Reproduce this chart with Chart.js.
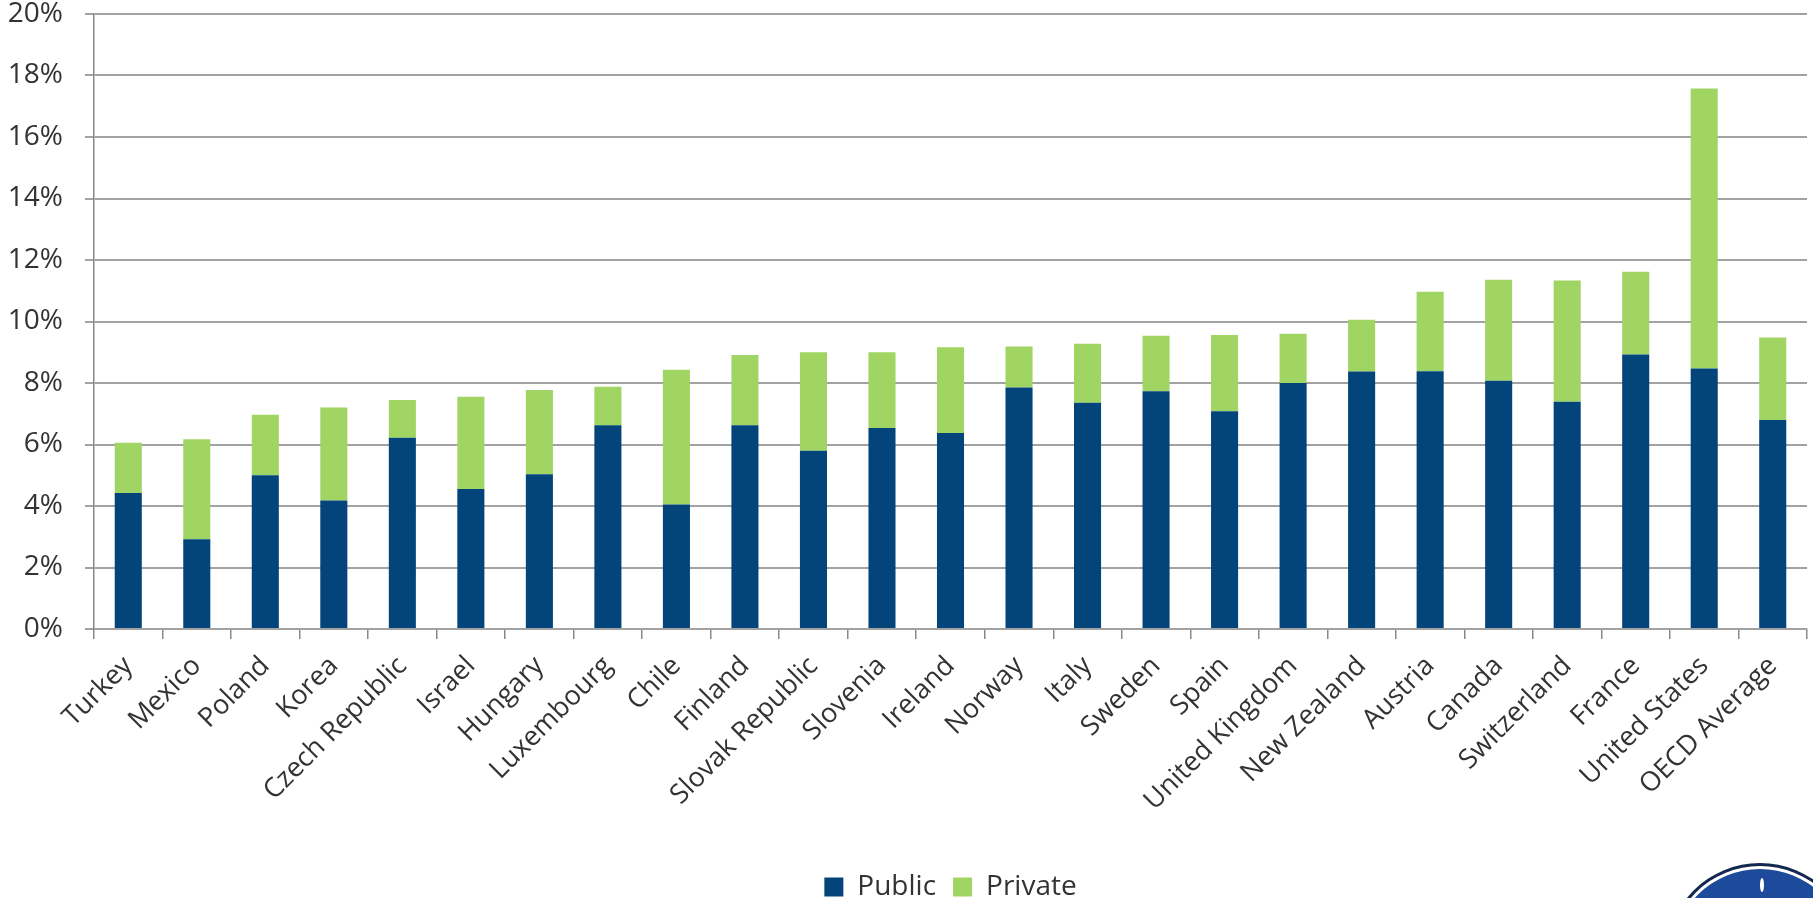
<!DOCTYPE html>
<html>
<head>
<meta charset="utf-8">
<title>Health spending, public and private</title>
<script src="https://cdn.jsdelivr.net/npm/chart.js@4"></script>
<style>
  html, body { margin: 0; padding: 0; background: #fff; overflow: hidden; }
  #wrap { position: relative; width: 1813px; height: 911px; }
</style>
</head>
<body>
<div id="wrap"><canvas id="spendChart"></canvas></div>
<script>
// Countries, ordered by total spending
const countries = ['Turkey', 'Mexico', 'Poland', 'Korea', 'Czech Republic', 'Israel', 'Hungary',
    'Luxembourg', 'Chile', 'Finland', 'Slovak Republic', 'Slovenia', 'Ireland', 'Norway', 'Italy',
    'Sweden', 'Spain', 'United Kingdom', 'New Zealand', 'Austria', 'Canada', 'Switzerland',
    'France', 'United States', 'OECD Average'];

// Share of GDP, in percent
const publicShare = [4.42, 2.92, 5.00, 4.18, 6.22, 4.55, 5.03, 6.63, 4.05, 6.63, 5.80, 6.54, 6.37,
    7.85, 7.36, 7.73, 7.08, 8.00, 8.37, 8.38, 8.07, 7.39, 8.93, 8.47, 6.80];
const privateShare = [1.64, 3.25, 1.97, 3.02, 1.23, 3.00, 2.74, 1.25, 4.38, 2.28, 3.20, 2.46, 2.79,
    1.34, 1.92, 1.81, 2.48, 1.60, 1.69, 2.59, 3.29, 3.94, 2.69, 9.11, 2.68];

const yTicks = [0, 2, 4, 6, 8, 10, 12, 14, 16, 18, 20];

const textColor = '#333333';
const gridColor = '#a2a2a2';
const font = { family: '"Open Sans", sans-serif', size: 27, lineHeight: 1 };

// keep the legend centred under the plot area rather than the whole canvas
const legendUnderPlot = {
    id: 'legendUnderPlot',
    afterLayout(chart) {
        const lg = chart.legend;
        const shift = (chart.chartArea.left + chart.chartArea.right) / 2 - (lg.left + lg.right) / 2;
        lg.left += shift;
        lg.right += shift;
    }
};

// round emblem peeking in at the bottom right corner
const emblem = {
    id: 'emblem',
    afterDraw(chart) {
        const ctx = chart.ctx;
        const cx = chart.width - 53, cy = chart.height + 46, r = 94;
        ctx.save();
        ctx.beginPath();
        ctx.arc(cx, cy, r, 0, Math.PI * 2);
        ctx.fillStyle = '#14284f';
        ctx.fill();
        ctx.beginPath();
        ctx.arc(cx, cy, r - 3, 0, Math.PI * 2);
        ctx.fillStyle = '#ffffff';
        ctx.fill();
        ctx.beginPath();
        ctx.arc(cx, cy, r - 6, 0, Math.PI * 2);
        ctx.fillStyle = '#1d4a9b';
        ctx.fill();
        ctx.fillStyle = '#ffffff';
        ctx.beginPath();
        ctx.ellipse(cx + 2, cy - r + 22, 2, 7, 0, 0, Math.PI * 2);
        ctx.fill();
        ctx.restore();
    }
};

const ctx = document.getElementById('spendChart').getContext('2d');

new Chart(ctx, {
    type: 'bar',
    data: {
        labels: countries,
        datasets: [{
            label: 'Public',
            data: publicShare,
            backgroundColor: '#03457b',
            barPercentage: 0.395,
            categoryPercentage: 1
        }, {
            label: 'Private',
            data: privateShare,
            backgroundColor: '#a0d463',
            barPercentage: 0.395,
            categoryPercentage: 1
        }]
    },
    options: {
        responsive: true,
        maintainAspectRatio: false,
        animation: false,
        layout: { padding: { top: 14, right: 6, left: 0, bottom: 0 } },
        plugins: {
            tooltip: { enabled: false },
            legend: {
                position: 'bottom',
                labels: {
                    font: { family: '"Open Sans", sans-serif', size: 28, lineHeight: 1 },
                    color: textColor,
                    boxWidth: 19,
                    boxHeight: 19,
                    padding: 17
                }
            }
        },
        scales: {
            x: {
                stacked: true,
                grid: {
                    offset: true,
                    drawOnChartArea: false,
                    color: '#888888',
                    lineWidth: 1.5,
                    tickLength: 10
                },
                border: { color: gridColor, width: 2 },
                ticks: {
                    font: font,
                    color: textColor,
                    maxRotation: 45,
                    minRotation: 45,
                    autoSkip: false,
                    padding: 13
                },
                afterFit(scale) { scale.height = 227; }
            },
            y: {
                stacked: true,
                min: 0,
                max: 20,
                afterBuildTicks(scale) { scale.ticks = yTicks.map(v => ({ value: v })); },
                grid: {
                    color: gridColor,
                    lineWidth: 2,
                    tickLength: 9
                },
                border: { color: '#888888', width: 1.5 },
                ticks: {
                    font: { family: '"Open Sans", sans-serif', size: 28, lineHeight: 1 },
                    color: textColor,
                    padding: 22,
                    callback: v => v + '%'
                },
                afterFit(scale) {
                    scale.width = 94;
                    scale.paddingTop = 0;
                    scale.paddingBottom = 0;
                }
            }
        }
    },
    plugins: [legendUnderPlot, emblem]
});
</script>
</body>
</html>
